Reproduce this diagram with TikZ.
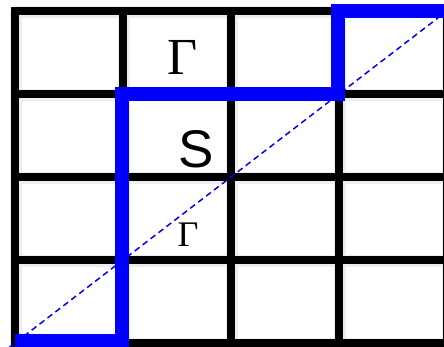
\documentclass[tikz,border=0pt]{standalone}
\usepackage{fontspec}
\newfontfamily\labelsans{Liberation Sans}
\newfontfamily\labelserif{Liberation Serif}
\begin{document}
\begin{tikzpicture}[x=1pt,y=-1pt,
  gridline/.style={line width=8pt,black},
  gridshadow/.style={line width=12pt,black!7},
  pathline/.style={line width=14pt,blue,line join=miter},
  diag/.style={blue,line width=1.5pt,dash pattern=on 6pt off 4pt},
  lbl/.style={inner sep=0pt,outer sep=0pt}]
\useasboundingbox (0,0) rectangle (444,347);
\clip (0,0) rectangle (444,347);
\fill[white] (0,0) rectangle (444,347);
% shadows
\foreach \x in {15,123,231,339,447} \draw[gridshadow] (\x+1,12) -- (\x+1,344);
\foreach \y in {11,94,177,260,343} \draw[gridshadow] (15,\y+1) -- (448,\y+1);
% grid
\foreach \x in {15,123,231,339,447} \draw[gridline] (\x,7) -- (\x,347);
\foreach \y in {11,94,177,260,343} \draw[gridline] (11,\y) -- (451,\y);
% blue monotone path
\coordinate (p0) at (15,341);
\coordinate (p1) at (122,341);
\coordinate (p2) at (122,94);
\coordinate (p3) at (338,94);
\coordinate (p4) at (338,11);
\coordinate (p5) at (452,11);
\draw[pathline] (p0) -- (p1) -- (p2) -- (p3) -- (p4) -- (p5);
% diagonal
\coordinate (d0) at (15,343);
\coordinate (d1) at (447,11);
\draw[diag, shorten <=-9pt] (d0) -- (d1);
% labels
\node[lbl] (gtop) at (183,57) {\fontsize{52}{52}\selectfont\labelserif Γ};
\node[lbl] (s) at (196,149) {\fontsize{53}{53}\selectfont\labelsans S};
\node[lbl] (gbot) at (188,235) {\fontsize{36}{36}\selectfont\labelserif Γ};
\end{tikzpicture}
\end{document}
